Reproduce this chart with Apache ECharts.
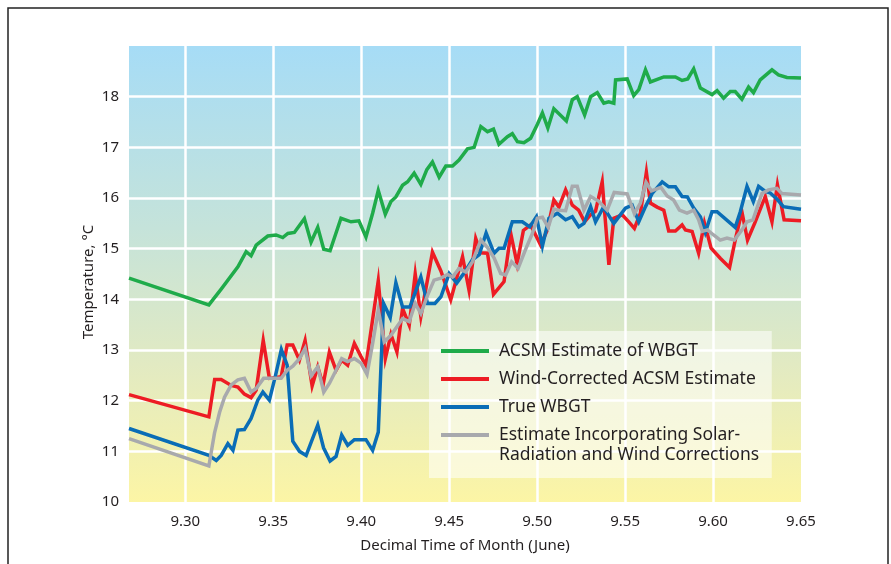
<!DOCTYPE html>
<html>
<head>
<meta charset="UTF-8">
<title>WBGT estimates</title>
<script src="https://cdn.jsdelivr.net/npm/echarts@6/dist/echarts.min.js"></script>
<style>
  html, body { margin: 0; padding: 0; background: #fff; }
  #chart { width: 891px; height: 564px; }
</style>
</head>
<body>
<div id="chart"></div>
<script>
// values (decimal day of June, degrees C)
var acsmTime = [9.268, 9.3134, 9.3204, 9.3299, 9.3346, 9.3374, 9.3403, 9.3469, 9.3516, 9.3554, 9.3583, 9.3620, 9.3677, 9.3715, 9.3753, 9.3787, 9.3823, 9.3885, 9.3942, 9.3987, 9.4027, 9.4065, 9.4097, 9.4137, 9.4169, 9.4197, 9.4235, 9.4264, 9.4301, 9.4339, 9.4373, 9.4405, 9.4443, 9.4481, 9.4519, 9.4556, 9.4604, 9.4642, 9.4680, 9.4718, 9.4752, 9.4783, 9.4831, 9.4859, 9.4888, 9.4925, 9.4963, 9.5001, 9.5030, 9.5061, 9.5095, 9.5166, 9.5200, 9.5228, 9.5270, 9.5304, 9.5342, 9.5379, 9.5407, 9.5436, 9.5446, 9.5512, 9.5549, 9.5578, 9.5616, 9.5644, 9.5720, 9.5786, 9.5824, 9.5856, 9.5890, 9.5928, 9.5994, 9.6023, 9.6060, 9.6098, 9.6126, 9.6164, 9.6202, 9.6230, 9.6268, 9.6335, 9.6372, 9.6420, 9.6500];
var acsmTemp = [14.42, 13.89, 14.20, 14.64, 14.94, 14.86, 15.07, 15.25, 15.27, 15.22, 15.30, 15.32, 15.59, 15.13, 15.42, 14.99, 14.96, 15.60, 15.53, 15.55, 15.23, 15.70, 16.15, 15.68, 15.93, 16.02, 16.25, 16.32, 16.49, 16.27, 16.56, 16.71, 16.41, 16.63, 16.63, 16.75, 16.97, 17.00, 17.41, 17.31, 17.36, 17.06, 17.21, 17.27, 17.11, 17.09, 17.18, 17.45, 17.68, 17.38, 17.76, 17.52, 17.94, 18.00, 17.64, 18.00, 18.08, 17.87, 17.90, 17.87, 18.33, 18.35, 18.02, 18.14, 18.53, 18.29, 18.39, 18.39, 18.32, 18.35, 18.55, 18.17, 18.04, 18.12, 17.97, 18.10, 18.10, 17.95, 18.19, 18.08, 18.33, 18.53, 18.43, 18.38, 18.37];

var windTime = [9.268, 9.3134, 9.3167, 9.3204, 9.3261, 9.3299, 9.3336, 9.3374, 9.3403, 9.3443, 9.3478, 9.3545, 9.3579, 9.3611, 9.3649, 9.3681, 9.3721, 9.3753, 9.3783, 9.3819, 9.3857, 9.3889, 9.3923, 9.3961, 9.3999, 9.4027, 9.4097, 9.4137, 9.4169, 9.4203, 9.4235, 9.4273, 9.4307, 9.4339, 9.4405, 9.4453, 9.4509, 9.4576, 9.4613, 9.4651, 9.4680, 9.4718, 9.4752, 9.4812, 9.4850, 9.4886, 9.4922, 9.4963, 9.5020, 9.5058, 9.5095, 9.5124, 9.5162, 9.5200, 9.5236, 9.5270, 9.5304, 9.5332, 9.5370, 9.5408, 9.5436, 9.5484, 9.5521, 9.5553, 9.5587, 9.5621, 9.5644, 9.5682, 9.5720, 9.5748, 9.5786, 9.5824, 9.5843, 9.5881, 9.5918, 9.5951, 9.5989, 9.6041, 9.6094, 9.6126, 9.6164, 9.6196, 9.6240, 9.6297, 9.6335, 9.6366, 9.6404, 9.6500];
var windTemp = [12.12, 11.68, 12.42, 12.42, 12.30, 12.27, 12.13, 12.06, 12.21, 13.19, 12.44, 12.47, 13.10, 13.10, 12.80, 13.19, 12.29, 12.67, 12.31, 12.96, 12.60, 12.80, 12.70, 13.13, 12.87, 12.70, 14.37, 12.83, 13.31, 12.96, 13.82, 13.49, 14.50, 13.66, 14.93, 14.56, 13.99, 14.84, 14.18, 15.20, 14.92, 14.91, 14.10, 14.35, 15.30, 14.70, 15.36, 15.47, 15.07, 15.37, 15.96, 15.82, 16.16, 15.86, 15.76, 15.53, 15.67, 15.74, 16.32, 14.68, 15.60, 15.67, 15.53, 15.40, 15.70, 16.51, 15.90, 15.82, 15.76, 15.35, 15.35, 15.47, 15.37, 15.34, 14.91, 15.51, 15.01, 14.81, 14.63, 15.17, 15.73, 15.17, 15.53, 16.03, 15.53, 16.26, 15.57, 15.55];

var trueTime = [9.268, 9.3134, 9.3176, 9.3204, 9.3242, 9.3271, 9.3299, 9.3336, 9.3374, 9.3412, 9.3441, 9.3478, 9.3511, 9.3546, 9.3579, 9.3611, 9.3649, 9.3687, 9.3753, 9.3786, 9.3823, 9.3857, 9.3889, 9.3923, 9.3961, 9.4027, 9.4065, 9.4097, 9.4127, 9.4165, 9.4197, 9.4235, 9.4277, 9.4339, 9.4377, 9.4419, 9.4453, 9.4500, 9.4543, 9.4589, 9.4632, 9.4671, 9.4710, 9.4755, 9.4783, 9.4812, 9.4859, 9.4916, 9.4958, 9.4996, 9.5030, 9.5067, 9.5115, 9.5162, 9.5200, 9.5237, 9.5266, 9.5304, 9.5332, 9.5377, 9.5436, 9.5502, 9.5540, 9.5578, 9.5616, 9.5654, 9.5711, 9.5748, 9.5786, 9.5824, 9.5854, 9.5890, 9.5928, 9.5956, 9.5994, 9.6023, 9.6126, 9.6155, 9.6193, 9.6229, 9.6259, 9.6297, 9.6325, 9.6363, 9.6400, 9.6500];
var trueTemp = [11.45, 10.92, 10.82, 10.92, 11.15, 11.02, 11.42, 11.43, 11.65, 12.01, 12.17, 12.01, 12.47, 13.01, 12.70, 11.20, 11.00, 10.92, 11.52, 11.07, 10.81, 10.90, 11.32, 11.12, 11.23, 11.23, 11.02, 11.38, 13.92, 13.64, 14.33, 13.85, 13.85, 14.44, 13.92, 13.92, 14.05, 14.51, 14.32, 14.54, 14.78, 14.88, 15.31, 14.91, 15.01, 15.01, 15.53, 15.53, 15.43, 15.63, 15.05, 15.60, 15.70, 15.57, 15.63, 15.43, 15.50, 15.83, 15.53, 15.82, 15.50, 15.80, 15.86, 15.53, 15.83, 16.09, 16.32, 16.22, 16.22, 16.03, 16.02, 15.80, 15.63, 15.32, 15.73, 15.73, 15.42, 15.73, 16.23, 15.93, 16.23, 16.13, 16.10, 15.98, 15.83, 15.78];

var solarTime = [9.268, 9.3134, 9.3166, 9.3195, 9.3223, 9.3261, 9.3299, 9.3336, 9.3374, 9.3403, 9.3445, 9.3545, 9.3579, 9.3611, 9.3649, 9.3681, 9.3715, 9.3753, 9.3787, 9.3819, 9.3857, 9.3889, 9.3923, 9.3961, 9.3999, 9.4033, 9.4065, 9.4097, 9.4131, 9.4169, 9.4203, 9.4235, 9.4273, 9.4307, 9.4339, 9.4377, 9.4414, 9.4453, 9.4491, 9.4519, 9.4556, 9.4594, 9.4632, 9.4680, 9.4718, 9.4755, 9.4793, 9.4821, 9.4855, 9.4892, 9.4935, 9.4973, 9.5001, 9.5030, 9.5063, 9.5095, 9.5124, 9.5162, 9.5200, 9.5228, 9.5266, 9.5304, 9.5349, 9.5398, 9.5438, 9.5512, 9.5553, 9.5587, 9.5619, 9.5650, 9.5704, 9.5739, 9.5776, 9.5809, 9.5852, 9.5890, 9.5918, 9.5939, 9.5968, 9.6003, 9.6041, 9.6079, 9.6121, 9.6164, 9.6193, 9.6227, 9.6278, 9.6315, 9.6363, 9.6391, 9.6500];
var solarTemp = [11.25, 10.71, 11.36, 11.77, 12.07, 12.31, 12.41, 12.44, 12.17, 12.24, 12.44, 12.44, 12.60, 12.68, 12.83, 13.03, 12.49, 12.67, 12.17, 12.34, 12.60, 12.83, 12.77, 12.83, 12.74, 12.52, 13.13, 13.79, 13.16, 13.29, 13.46, 13.62, 13.56, 13.92, 13.72, 14.08, 14.38, 14.42, 14.49, 14.44, 14.61, 14.54, 14.74, 15.17, 15.02, 14.82, 14.51, 14.48, 14.74, 14.61, 14.99, 15.30, 15.60, 15.62, 15.42, 15.78, 15.76, 15.75, 16.23, 16.23, 15.76, 16.03, 15.94, 15.76, 16.11, 16.08, 15.69, 15.90, 16.31, 16.14, 16.21, 16.04, 15.96, 15.76, 15.70, 15.76, 15.57, 15.34, 15.37, 15.27, 15.17, 15.21, 15.17, 15.37, 15.53, 15.57, 16.09, 16.16, 16.19, 16.09, 16.06];

var seriesNames = [
  'ACSM Estimate of WBGT',
  'Wind-Corrected ACSM Estimate',
  'True WBGT',
  'Estimate Incorporating Solar-Radiation and Wind Corrections'
];
// the last legend entry wraps after "Solar-" in the original
var legendLines = ['Estimate Incorporating Solar-', 'Radiation and Wind Corrections'];
var seriesColors = ['#1fab4a', '#ed1c24', '#0a6db6', '#a8a9ad'];

var font = '"Noto Sans", "Open Sans", sans-serif';
var inkColor = '#231f20';
var legendFontSize = 17.5;

function pairs(xs, ys) {
  var out = [];
  for (var i = 0; i < xs.length; i++) out.push([xs[i], ys[i]]);
  return out;
}

var allData = [
  pairs(acsmTime, acsmTemp),
  pairs(windTime, windTemp),
  pairs(trueTime, trueTemp),
  pairs(solarTime, solarTemp)
];

var chart = echarts.init(document.getElementById('chart'), null, { renderer: 'canvas' });

chart.setOption({
  animation: false,
  backgroundColor: '#ffffff',
  grid: {
    left: 129, right: 90, top: 46, bottom: 62,
    show: true,
    borderWidth: 0,
    backgroundColor: {
      type: 'linear', x: 0, y: 0, x2: 0, y2: 1,
      colorStops: [
        { offset: 0, color: '#a6dcf6' },
        { offset: 0.4, color: '#c5e3da' },
        { offset: 0.7, color: '#e2eac2' },
        { offset: 1, color: '#fcf5a5' }
      ]
    }
  },
  xAxis: {
    type: 'value',
    min: 9.268, max: 9.65,
    splitNumber: 7,
    minInterval: 0.05, maxInterval: 0.05,
    name: 'Decimal Time of Month (June)',
    nameLocation: 'middle',
    nameGap: 36,
    nameTextStyle: { fontFamily: font, fontSize: 15, color: inkColor },
    axisLine: { show: false },
    axisTick: { show: false },
    axisLabel: {
      showMinLabel: false,
      margin: 12,
      fontFamily: font, fontSize: 15, color: inkColor,
      formatter: function (v) { return v.toFixed(2); }
    },
    splitLine: { show: true, showMinLine: false, showMaxLine: false, lineStyle: { color: '#ffffff', width: 2.5 } }
  },
  yAxis: {
    type: 'value',
    min: 10, max: 19, interval: 1,
    name: 'Temperature, \u00b0C',
    nameLocation: 'middle',
    nameMoveOverlap: false,
    nameGap: 33,
    nameTextStyle: { fontFamily: font, fontSize: 15, color: inkColor, padding: [0, 16, 0, 0] },
    axisLine: { show: false },
    axisTick: { show: false },
    axisLabel: { showMaxLabel: false, margin: 10, fontFamily: font, fontSize: 15, color: inkColor },
    splitLine: { show: true, showMinLine: false, showMaxLine: false, lineStyle: { color: '#ffffff', width: 2.5 } }
  },
  legend: {
    orient: 'vertical',
    left: 429, top: 331,
    padding: [10, 16, 33, 12],
    itemGap: 8,
    itemWidth: 48, itemHeight: 4,
    icon: 'rect',
    selectedMode: false,
    backgroundColor: 'rgba(255,255,255,0.55)',
    textStyle: { fontFamily: font, fontSize: legendFontSize, lineHeight: 20, color: inkColor, padding: [0, 0, 0, 5] },
    formatter: function (name) {
      return name === seriesNames[3] ? legendLines[0] : name;
    },
    data: seriesNames
  },
  graphic: [{
    type: 'rect',
    silent: true,
    shape: { x: 8, y: 8, width: 880, height: 620 },
    style: { fill: null, stroke: '#222222', lineWidth: 1.5 }
  }, {
    type: 'text',
    silent: true,
    left: 499, top: 446,
    z: 100,
    style: { text: legendLines[1], fontFamily: font, fontSize: legendFontSize, fill: inkColor }
  }],
  series: seriesNames.map(function (name, i) {
    return {
      name: name,
      type: 'line',
      data: allData[i],
      showSymbol: false,
      symbol: 'none',
      color: seriesColors[i],
      lineStyle: { color: seriesColors[i], width: 3.5, join: 'miter' },
      z: 2 + i
    };
  })
});
</script>
</body>
</html>
